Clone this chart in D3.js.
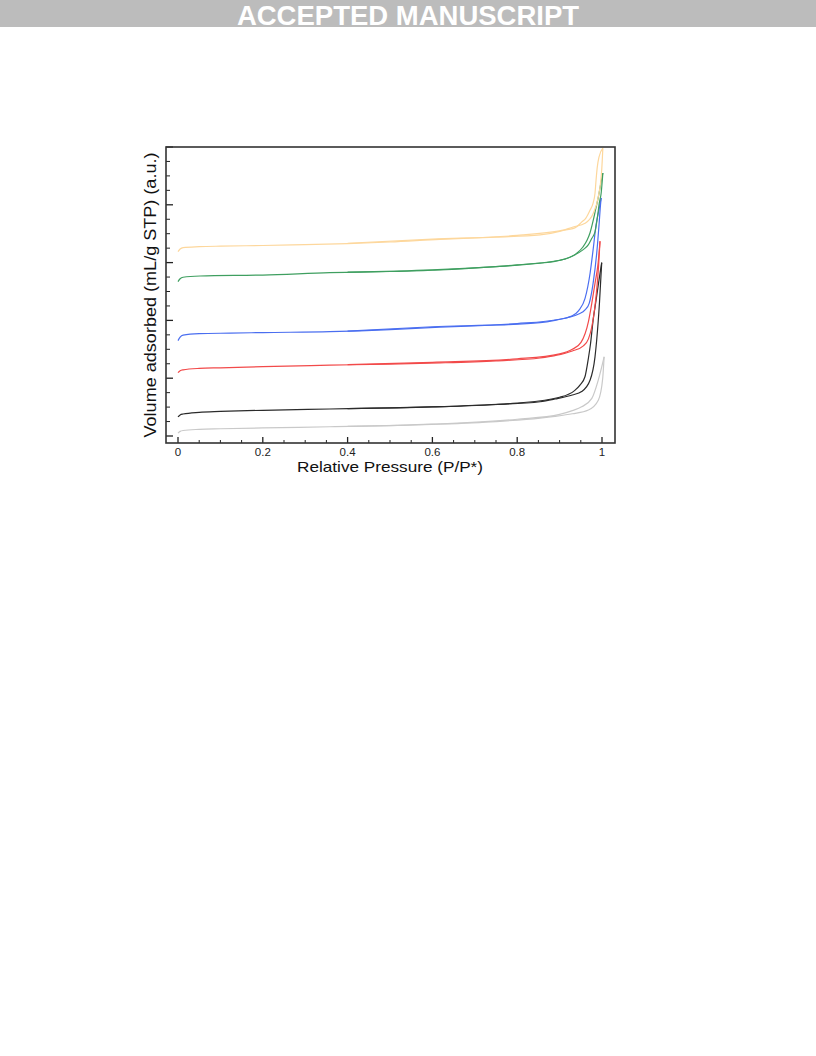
<!DOCTYPE html>
<html><head><meta charset="utf-8">
<script src="https://cdn.jsdelivr.net/npm/d3@7"></script>
<style>body{margin:0;background:#fff}svg{display:block}</style>
</head><body>
<script>
// ---- data (relative pressure P/P*, volume adsorbed in arbitrary units) ----
const xTicks = [0, 0.2, 0.4, 0.6, 0.8, 1];
const xTickLabels = ["0", "0.2", "0.4", "0.6", "0.8", "1"];
const yMajorTicks = [0, 1, 2, 3, 4, 5];

const orangeAds = [[0,3.19],[0.005,3.235],[0.012,3.26],[0.05,3.275],[0.1,3.285],[0.2,3.296],[0.3,3.312],[0.4,3.33],[0.5,3.356],[0.618,3.403],[0.75,3.44],[0.854,3.478],[0.9,3.54],[0.932,3.616],[0.96,3.68],[0.9795,3.853],[0.9913,4.14],[0.9993,4.60],[1.002,4.98]];
const orangeDes = [[0.4,3.335],[0.6,3.405],[0.8,3.47],[0.9,3.55],[0.936,3.60],[0.952,3.70],[0.962,3.77],[0.972,3.91],[0.979,4.03],[0.9835,4.20],[0.986,4.43],[0.989,4.66],[0.993,4.83],[1.002,4.98]];

const greenAds = [[0,2.67],[0.005,2.72],[0.012,2.746],[0.052,2.768],[0.2,2.785],[0.358,2.825],[0.5,2.846],[0.618,2.872],[0.75,2.93],[0.854,2.99],[0.889,3.02],[0.932,3.12],[0.955,3.22],[0.968,3.31],[0.976,3.42],[0.9835,3.53],[0.9906,3.86],[0.9936,4.03],[0.998,4.20],[1.002,4.55]];
const greenDes = [[0.4,2.835],[0.6,2.875],[0.8,2.96],[0.9,3.04],[0.94,3.16],[0.955,3.27],[0.965,3.39],[0.972,3.52],[0.979,3.72],[0.985,3.92],[0.991,4.12],[0.996,4.32],[1.002,4.55]];

const blueAds = [[0,1.65],[0.005,1.71],[0.012,1.745],[0.05,1.77],[0.123,1.78],[0.2,1.79],[0.358,1.805],[0.5,1.84],[0.618,1.885],[0.75,1.92],[0.854,1.96],[0.889,2.0],[0.92,2.05],[0.945,2.11],[0.96,2.18],[0.97,2.30],[0.979,2.64],[0.9875,3.16],[0.993,3.65],[0.9965,4.0],[0.998,4.12]];
const blueDes = [[0.4,1.815],[0.6,1.89],[0.8,1.945],[0.9,2.02],[0.93,2.08],[0.945,2.17],[0.96,2.38],[0.972,2.82],[0.979,3.22],[0.986,3.65],[0.993,3.92],[0.998,4.12]];

const redAds = [[0,1.095],[0.005,1.13],[0.012,1.145],[0.05,1.17],[0.1,1.18],[0.2,1.20],[0.358,1.225],[0.5,1.245],[0.618,1.265],[0.75,1.30],[0.854,1.35],[0.889,1.39],[0.93,1.47],[0.956,1.56],[0.968,1.68],[0.976,1.89],[0.9875,2.53],[0.992,2.95],[0.9953,3.37]];
const redDes = [[0.4,1.235],[0.6,1.275],[0.8,1.335],[0.9,1.42],[0.93,1.50],[0.9505,1.62],[0.968,1.98],[0.976,2.30],[0.9835,2.64],[0.991,3.0],[0.9953,3.37]];

const blackAds = [[0,0.33],[0.005,0.365],[0.012,0.38],[0.05,0.41],[0.1,0.425],[0.2,0.445],[0.358,0.467],[0.5,0.485],[0.618,0.507],[0.75,0.545],[0.854,0.593],[0.889,0.64],[0.93,0.71],[0.952,0.77],[0.972,0.97],[0.9835,1.37],[0.9875,1.66],[0.994,2.3],[0.9993,3.0]];
const blackDes = [[0.4,0.475],[0.6,0.505],[0.8,0.57],[0.9,0.67],[0.936,0.79],[0.948,0.88],[0.96,1.03],[0.968,1.35],[0.973,1.60],[0.979,2.0],[0.986,2.35],[0.993,2.7],[0.9993,3.0]];

const grayAds = [[0,0.05],[0.005,0.08],[0.012,0.095],[0.05,0.115],[0.1,0.125],[0.2,0.14],[0.358,0.16],[0.5,0.18],[0.618,0.205],[0.75,0.25],[0.854,0.31],[0.889,0.34],[0.93,0.385],[0.968,0.45],[0.9913,0.62],[1.0017,1.0],[1.005,1.37]];
const grayDes = [[0.4,0.165],[0.6,0.205],[0.8,0.29],[0.9,0.375],[0.93,0.44],[0.952,0.505],[0.976,0.65],[0.9913,0.97],[1.005,1.37]];

const seriesList = [
  {name:"gray", ads:grayAds, des:grayDes, color:"#c9c9c9"},
  {name:"black", ads:blackAds, des:blackDes, color:"#2b2b2b"},
  {name:"red", ads:redAds, des:redDes, color:"#f24a4a"},
  {name:"blue", ads:blueAds, des:blueDes, color:"#4a6ef0"},
  {name:"green", ads:greenAds, des:greenDes, color:"#3f9f60"},
  {name:"orange", ads:orangeAds, des:orangeDes, color:"#fdd79c"}
];

// ---- layout ----
const W = 816, H = 1056;
const svg = d3.select("body").append("svg").attr("width", W).attr("height", H);

// header bar
svg.append("rect").attr("x",0).attr("y",0).attr("width",W).attr("height",27).attr("fill","#bcbcbc");
svg.append("text").attr("x",408).attr("y",25).attr("text-anchor","middle")
  .attr("font-family","Liberation Sans, Arial, sans-serif").attr("font-weight","bold")
  .attr("font-size",27.5).attr("fill","#ffffff").text("ACCEPTED MANUSCRIPT");

const frame = {left:166, top:147, right:615, bottom:443};
const x = d3.scaleLinear().domain([0,1]).range([178,602]);
const y = d3.scaleLinear().domain([0,5]).range([436,147]);

const g = svg.append("g");

// curves
const line = d3.line().x(d=>x(d[0])).y(d=>y(d[1])).curve(d3.curveMonotoneX);
seriesList.forEach(s=>{
  [s.ads, s.des].forEach(branch=>{
    const pts = branch.slice().sort((a,b)=>a[0]-b[0]);
    g.append("path").attr("d", line(pts)).attr("fill","none")
      .attr("stroke", s.color).attr("stroke-width",1.2).attr("stroke-linejoin","round");
  });
});

// bottom axis ticks (inward)
const xMinor = d3.range(0, 1.0001, 0.05);
const axX = g.append("g");
xMinor.forEach(v=>{
  const isMaj = xTicks.some(m=>Math.abs(m-v)<1e-6);
  axX.append("line").attr("x1",x(v)).attr("x2",x(v))
    .attr("y1",frame.bottom).attr("y2",frame.bottom-(isMaj?6:3))
    .attr("stroke","#222").attr("stroke-width",isMaj?1.3:1);
});
xTicks.forEach((v,i)=>{
  axX.append("text").attr("x",x(v)).attr("y",455.5).attr("text-anchor","middle")
    .attr("font-family","Liberation Sans, Arial, sans-serif").attr("font-size",11.5).attr("fill","#222")
    .text(xTickLabels[i]);
});

// left axis ticks (inward)
const yMinor = d3.range(0, 5.0001, 0.25);
const axY = g.append("g");
yMinor.forEach(v=>{
  const isMaj = yMajorTicks.some(m=>Math.abs(m-v)<1e-6);
  axY.append("line").attr("x1",frame.left).attr("x2",frame.left+(isMaj?7:4))
    .attr("y1",y(v)).attr("y2",y(v))
    .attr("stroke","#222").attr("stroke-width",isMaj?1.3:1);
});

// frame
g.append("rect").attr("x",frame.left).attr("y",frame.top)
  .attr("width",frame.right-frame.left).attr("height",frame.bottom-frame.top)
  .attr("fill","none").attr("stroke","#333").attr("stroke-width",1.6);

// axis titles
svg.append("text").attr("x",390).attr("y",471.5).attr("text-anchor","middle")
  .attr("font-family","Liberation Sans, Arial, sans-serif").attr("font-size",14.5).attr("fill","#111")
  .attr("textLength",186).attr("lengthAdjust","spacingAndGlyphs")
  .text("Relative Pressure (P/P*)");
svg.append("text").attr("transform","translate(156,295) rotate(-90)").attr("text-anchor","middle")
  .attr("font-family","Liberation Sans, Arial, sans-serif").attr("font-size",16).attr("fill","#111")
  .attr("textLength",285).attr("lengthAdjust","spacingAndGlyphs")
  .text("Volume adsorbed (mL/g STP) (a.u.)");
</script>
</body></html>
